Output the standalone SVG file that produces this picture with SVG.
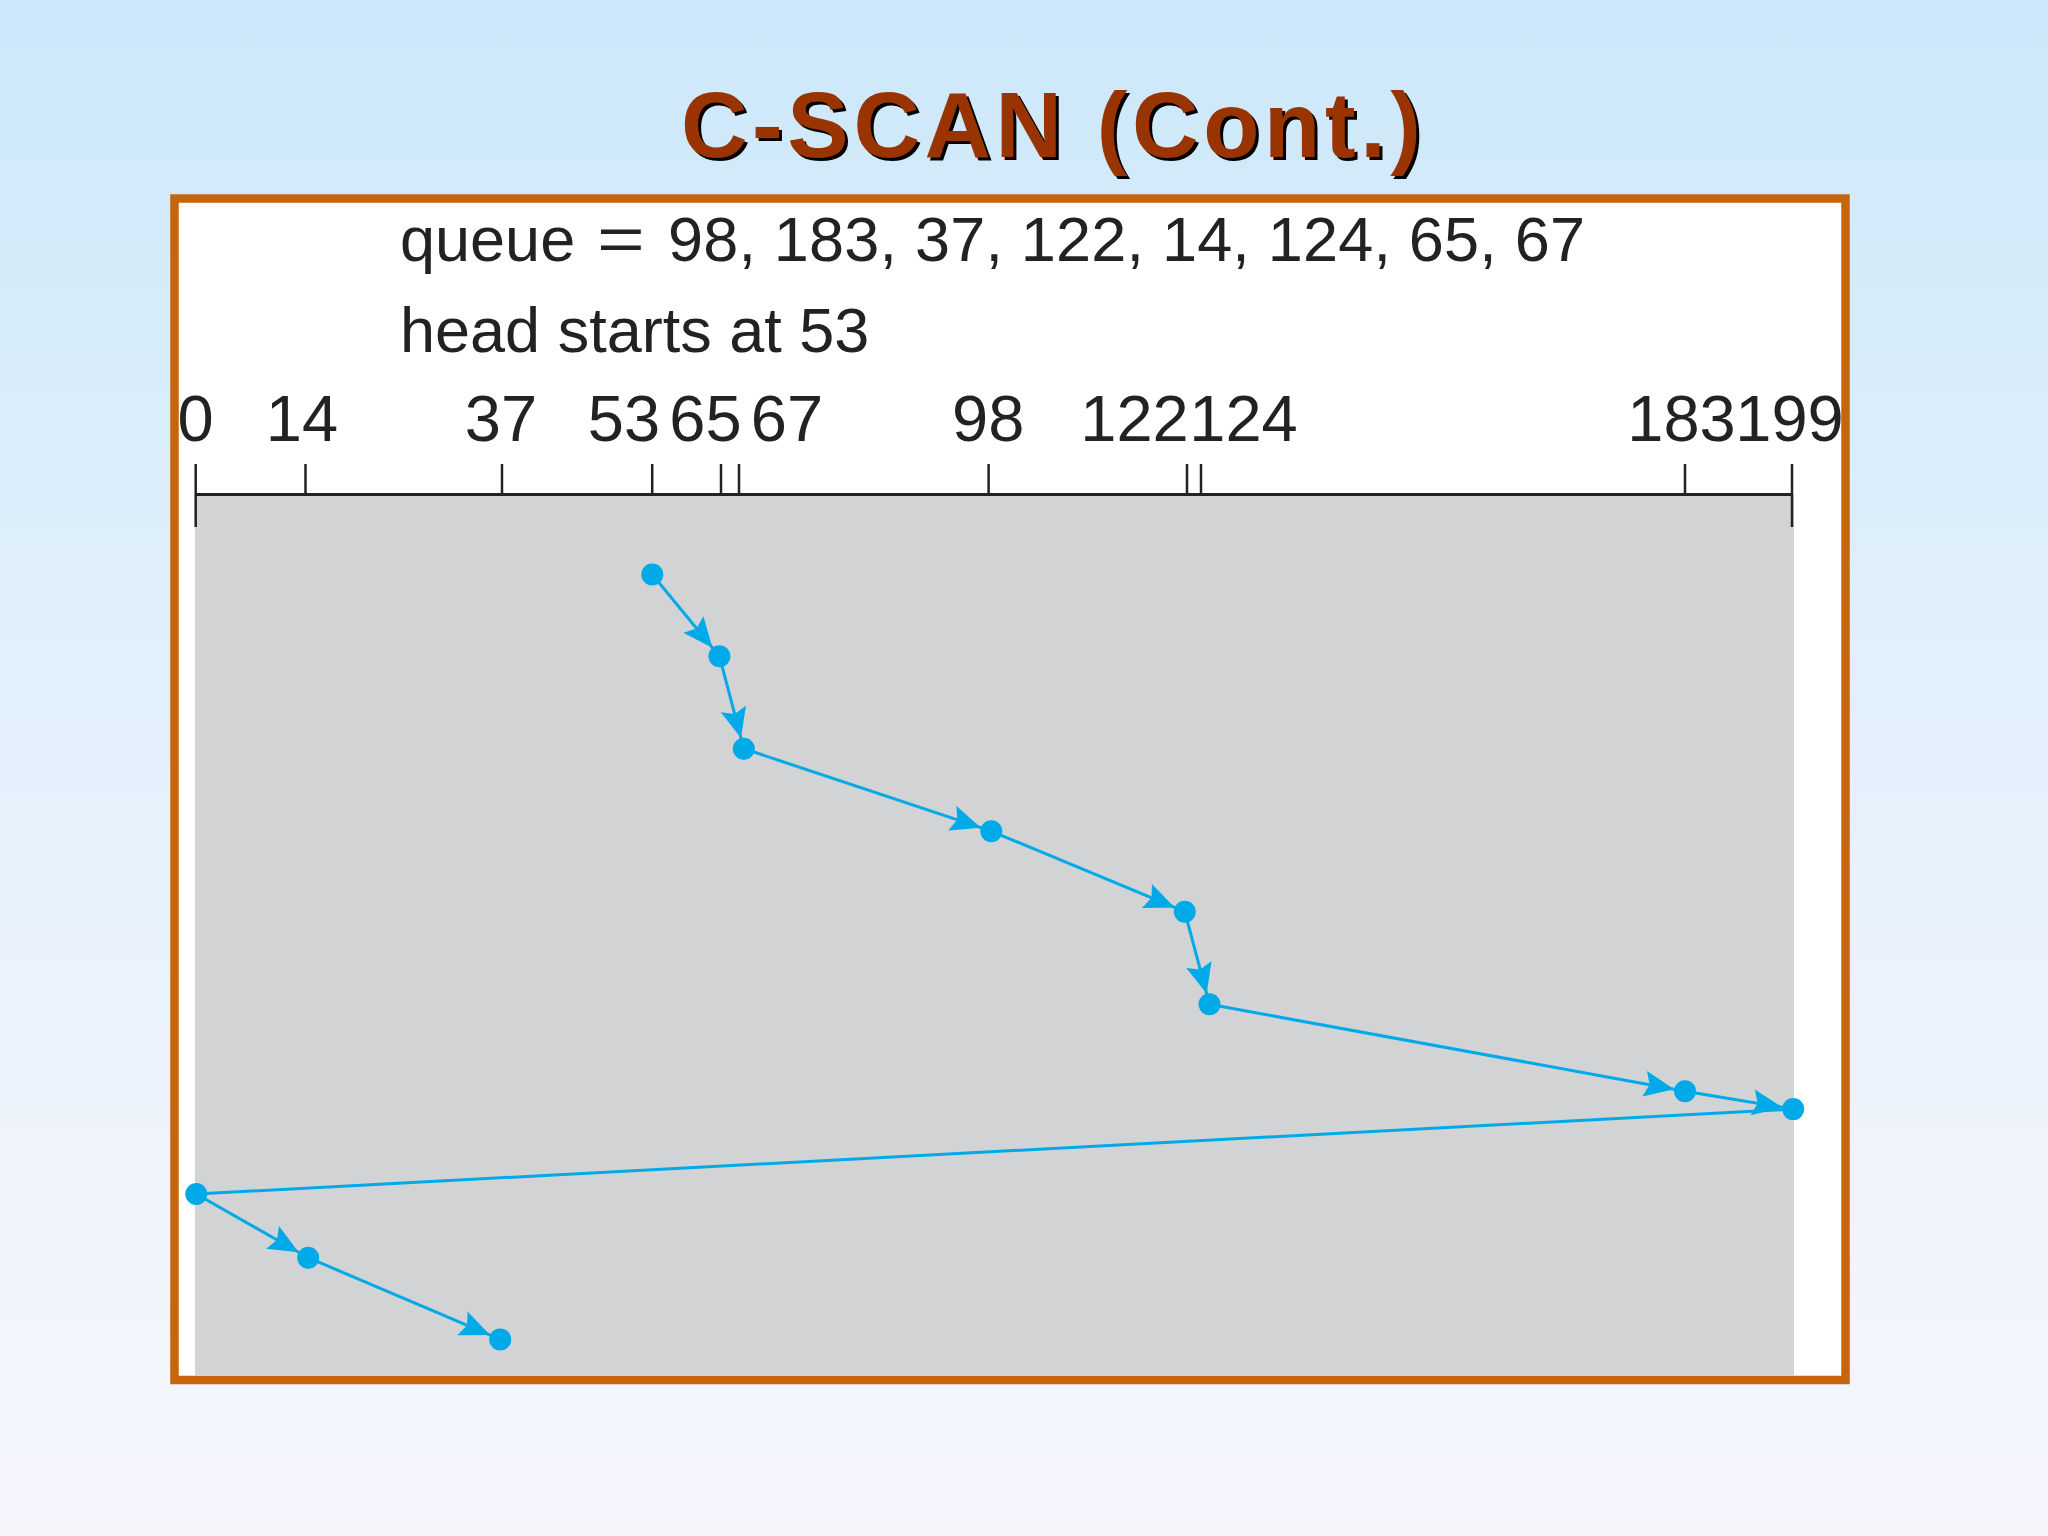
<svg xmlns="http://www.w3.org/2000/svg" width="2048" height="1536" viewBox="0 0 2048 1536">
<defs>
<linearGradient id="bg" x1="0" y1="0" x2="0" y2="1">
<stop offset="0" stop-color="#CCE8FA"/>
<stop offset="0.45" stop-color="#E2F0FB"/>
<stop offset="0.8" stop-color="#F0F4FC"/>
<stop offset="1" stop-color="#F5F6FC"/>
</linearGradient>
<marker id="arr" markerUnits="userSpaceOnUse" markerWidth="30" markerHeight="26" refX="41" refY="13" orient="auto" overflow="visible">
<path d="M0,0 L30,13 L0,26 L5,13 z" fill="#00A9E8"/>
</marker>
<style>
.title{font-family:"Liberation Sans",Arial,sans-serif;font-weight:bold;font-size:92px}
.hdr{font-family:"Liberation Sans",Arial,sans-serif;font-size:63px;fill:#222}
.tl{font-family:"Liberation Sans",Arial,sans-serif;font-size:65px;fill:#222;text-anchor:middle}
.tick{stroke:#222;stroke-width:2.5}
.seg{stroke:#00A9E8;stroke-width:3;fill:none}
.dot{fill:#00A9E8}
</style>
</defs>
<rect x="0" y="0" width="2048" height="1536" fill="url(#bg)"/>
<g id="title">
<text class="title" x="684" y="160" fill="#000" textLength="740" lengthAdjust="spacing">C-SCAN (Cont.)</text>
<text class="title" x="681" y="157" fill="#993300" textLength="740" lengthAdjust="spacing">C-SCAN (Cont.)</text>
</g>
<g id="frame">
<rect x="174.5" y="198.5" width="1671" height="1181.5" fill="#FFFFFF" stroke="#C8650A" stroke-width="8.5"/>
<rect x="195" y="494" width="1599" height="882" fill="#D2D3D5"/>
</g>
<g id="header">
<text class="hdr" x="400" y="261">queue</text>
<text class="hdr" transform="translate(621,261) scale(1.3,1)" x="0" y="0" text-anchor="middle">=</text>
<text class="hdr" x="668" y="261" textLength="917" lengthAdjust="spacing">98, 183, 37, 122, 14, 124, 65, 67</text>
<text class="hdr" x="400" y="352">head starts at 53</text>
</g>
<g id="axis">
<line x1="195.7" y1="494.5" x2="1792" y2="494.5" stroke="#222" stroke-width="3"/>
<line class="tick" x1="195.7" y1="464" x2="195.7" y2="527"/>
<line class="tick" x1="305.5" y1="464" x2="305.5" y2="494"/>
<line class="tick" x1="502" y1="464" x2="502" y2="494"/>
<line class="tick" x1="652.2" y1="464" x2="652.2" y2="494"/>
<line class="tick" x1="721" y1="464" x2="721" y2="494"/>
<line class="tick" x1="739" y1="464" x2="739" y2="494"/>
<line class="tick" x1="988.6" y1="464" x2="988.6" y2="494"/>
<line class="tick" x1="1187" y1="464" x2="1187" y2="494"/>
<line class="tick" x1="1201" y1="464" x2="1201" y2="494"/>
<line class="tick" x1="1685" y1="464" x2="1685" y2="494"/>
<line class="tick" x1="1792" y1="464" x2="1792" y2="527"/>
<text class="tl" x="195.5" y="441">0</text>
<text class="tl" x="302" y="441">14</text>
<text class="tl" x="501" y="441">37</text>
<text class="tl" x="624" y="441">53</text>
<text class="tl" x="705.5" y="441">65</text>
<text class="tl" x="787" y="441">67</text>
<text class="tl" x="988.2" y="441">98</text>
<text class="tl" x="1134.5" y="441">122</text>
<text class="tl" x="1243.5" y="441">124</text>
<text class="tl" x="1681.5" y="441">183</text>
<text class="tl" x="1789.5" y="441">199</text>
</g>
<g id="connectors">
<line class="seg" x1="652.3" y1="574.5" x2="719.4" y2="656.2" marker-end="url(#arr)"/>
<line class="seg" x1="719.4" y1="656.2" x2="743.8" y2="748.7" marker-end="url(#arr)"/>
<line class="seg" x1="743.8" y1="748.7" x2="991.3" y2="831.2" marker-end="url(#arr)"/>
<line class="seg" x1="991.3" y1="831.2" x2="1184.8" y2="911.7" marker-end="url(#arr)"/>
<line class="seg" x1="1184.8" y1="911.7" x2="1209.5" y2="1004.3" marker-end="url(#arr)"/>
<line class="seg" x1="1209.5" y1="1004.3" x2="1685" y2="1091.2" marker-end="url(#arr)"/>
<line class="seg" x1="1685" y1="1091.2" x2="1793.2" y2="1109.1" marker-end="url(#arr)"/>
<line class="seg" x1="1793.2" y1="1109.1" x2="196.3" y2="1194"/>
<line class="seg" x1="196.3" y1="1194" x2="308.2" y2="1257.7" marker-end="url(#arr)"/>
<line class="seg" x1="308.2" y1="1257.7" x2="500.2" y2="1339.4" marker-end="url(#arr)"/>
</g>
<g id="n53"><circle class="dot" cx="652.3" cy="574.5" r="11"/></g>
<g id="n65"><circle class="dot" cx="719.4" cy="656.2" r="11"/></g>
<g id="n67"><circle class="dot" cx="743.8" cy="748.7" r="11"/></g>
<g id="n98"><circle class="dot" cx="991.3" cy="831.2" r="11"/></g>
<g id="n122"><circle class="dot" cx="1184.8" cy="911.7" r="11"/></g>
<g id="n124"><circle class="dot" cx="1209.5" cy="1004.3" r="11"/></g>
<g id="n183"><circle class="dot" cx="1685" cy="1091.2" r="11"/></g>
<g id="n199"><circle class="dot" cx="1793.2" cy="1109.1" r="11"/></g>
<g id="n0"><circle class="dot" cx="196.3" cy="1194" r="11"/></g>
<g id="n14"><circle class="dot" cx="308.2" cy="1257.7" r="11"/></g>
<g id="n37"><circle class="dot" cx="500.2" cy="1339.4" r="11"/></g>
</svg>
